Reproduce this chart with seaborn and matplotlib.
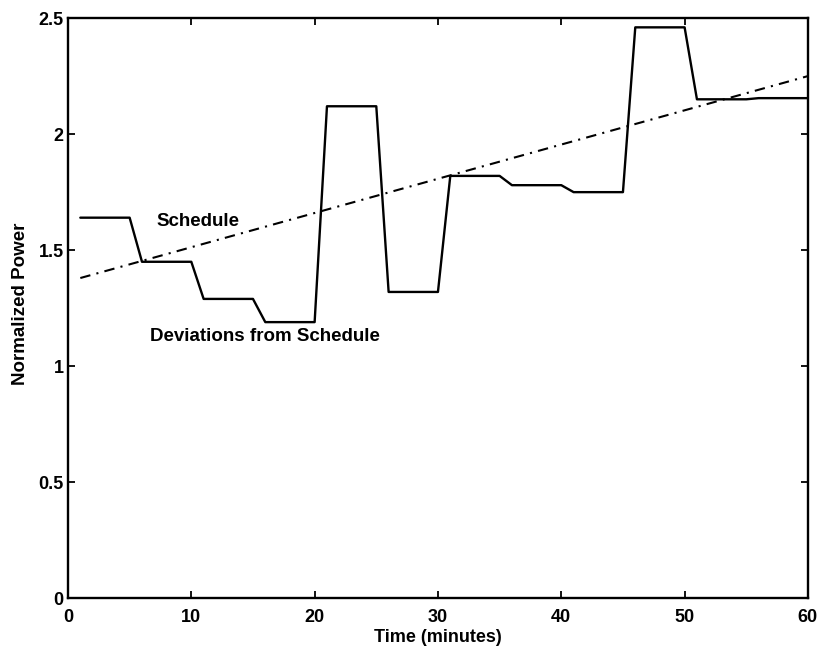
import matplotlib
matplotlib.use("Agg")
import matplotlib.pyplot as plt
import seaborn as sns
import pandas as pd

# Data
dev_time = [1, 5, 6, 10, 11, 15, 16, 20, 21, 25, 26, 30, 31, 35, 36, 40,
            41, 45, 46, 50, 51, 55, 56, 60]
dev_power = [1.64, 1.64, 1.45, 1.45, 1.29, 1.29, 1.19, 1.19, 2.12, 2.12,
             1.32, 1.32, 1.82, 1.82, 1.78, 1.78, 1.75, 1.75, 2.46, 2.46,
             2.15, 2.15, 2.155, 2.155]
sched_time = [1, 60]
sched_power = [1.38, 2.25]
x_ticks = [0, 10, 20, 30, 40, 50, 60]
y_ticks = [0, 0.5, 1, 1.5, 2, 2.5]
y_tick_labels = ["0", "0.5", "1", "1.5", "2", "2.5"]

sns.set_style("ticks")
plt.rcParams['font.family'] = ['Liberation Sans', 'DejaVu Sans']
plt.rcParams['text.color'] = 'black'
plt.rcParams['axes.labelcolor'] = 'black'
plt.rcParams['xtick.color'] = 'black'
plt.rcParams['ytick.color'] = 'black'
plt.rcParams['axes.edgecolor'] = 'black'

fig = plt.figure(figsize=(8.24, 6.52), dpi=100)
ax = fig.add_axes([0.0825, 0.0823, 0.898, 0.890])

dev_df = pd.DataFrame({"t": dev_time, "p": dev_power})
sch_df = pd.DataFrame({"t": sched_time, "p": sched_power})

sns.lineplot(data=dev_df, x="t", y="p", ax=ax, color="black", lw=1.7,
             sort=False, estimator=None)
sns.lineplot(data=sch_df, x="t", y="p", ax=ax, color="black", lw=1.5,
             sort=False, estimator=None, linestyle=(0, (5, 3, 1, 3)))

ax.set_xlim(0, 60)
ax.set_ylim(0, 2.5)
ax.set_xticks(x_ticks)
ax.set_yticks(y_ticks)
ax.set_yticklabels(y_tick_labels)
ax.tick_params(direction="in", length=5, width=1.3, top=True, right=True,
               labelsize=13, colors="black")
ax.tick_params(axis="x", pad=8)
ax.tick_params(axis="y", pad=3)
for lab in ax.get_xticklabels() + ax.get_yticklabels():
    lab.set_fontweight("bold")
for s in ax.spines.values():
    s.set_linewidth(1.7)
    s.set_visible(True)
    s.set_color("black")

ax.set_xlabel("Time (minutes)", fontsize=13, fontweight="bold", labelpad=2,
              color="black")
ax.set_ylabel("Normalized Power", fontsize=13.5, fontweight="bold",
              labelpad=4, color="black")
ax.yaxis.set_label_coords(-0.053, 0.508)

ax.text(7.2, 1.623, "Schedule", fontsize=13.5, fontweight="bold",
        va="center", ha="left", color="black")
ax.text(6.65, 1.13, "Deviations from Schedule", fontsize=13.5,
        fontweight="bold", va="center", ha="left", color="black")

fig.savefig("out.png", dpi=100)
